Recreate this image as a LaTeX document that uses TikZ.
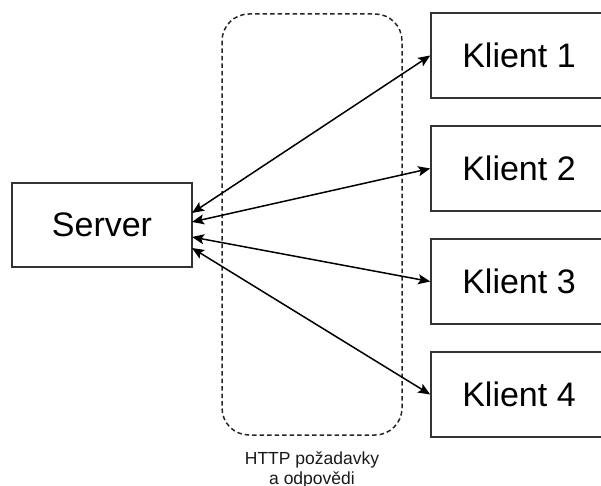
\documentclass[tikz,border=0pt]{standalone}
\usepackage{fontspec}
\setmainfont{Liberation Sans}
\usetikzlibrary{arrows.meta}
\begin{document}
\begin{tikzpicture}[x=1pt,y=-1pt,
  box/.style={draw=black!80, line width=1.6pt, fill=white, inner sep=0pt,
    font=\fontsize{34}{40}\selectfont},
  link/.style={draw=black, line width=1.5pt,
    {Stealth[length=12pt,width=10pt,inset=2.5pt]}-{Stealth[length=12pt,width=10pt,inset=2.5pt]}},
  group/.style={draw=black!85, line width=1.5pt, dash pattern=on 4.5pt off 3pt, rounded corners=27pt}]
\useasboundingbox (0,0) rectangle (601,486);
\draw[group] (222,14) rectangle (402,435);
\node[box, minimum width=180pt, minimum height=84pt] (srv) at (102,225) {Server};
\node[box, minimum width=176pt, minimum height=85pt] (k1) at (519,55.5) {Klient 1};
\node[box, minimum width=176pt, minimum height=85pt] (k2) at (519,168.5) {Klient 2};
\node[box, minimum width=176pt, minimum height=85pt] (k3) at (519,281.5) {Klient 3};
\node[box, minimum width=176pt, minimum height=85pt] (k4) at (519,394.5) {Klient 4};
\coordinate (s1) at (192,213);
\coordinate (s2) at (192,222);
\coordinate (s3) at (192,237);
\coordinate (s4) at (192,248);
\draw[link] (s1) -- (k1.west);
\draw[link] (s2) -- (k2.west);
\draw[link] (s3) -- (k3.west);
\draw[link] (s4) -- (k4.west);
\node[anchor=north, inner sep=0pt, align=center, font=\fontsize{17.5}{19.5}\selectfont, text=black!90] (lbl) at (312,452) {HTTP požadavky\\a odpovědi};
\end{tikzpicture}
\end{document}
